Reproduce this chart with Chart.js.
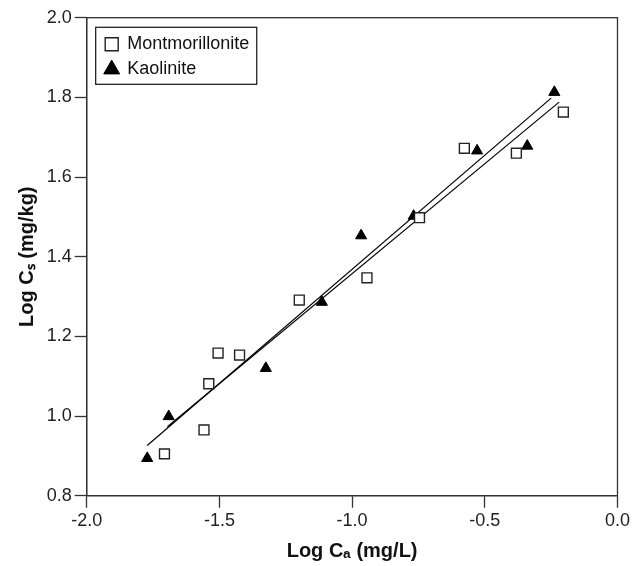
<!DOCTYPE html>
<html>
<head>
<meta charset="utf-8">
<script src="https://cdn.jsdelivr.net/npm/chart.js@4.4.1/dist/chart.umd.min.js"></script>
<style>
  html, body { margin: 0; padding: 0; background: #fff; }
</style>
</head>
<body>
<canvas id="chart" width="633" height="566"></canvas>
<script>
// Montmorillonite (open squares)
const montX = [-1.707, -1.558, -1.540, -1.505, -1.424, -1.199, -0.944, -0.746, -0.577, -0.381, -0.204];
const montY = [0.905, 0.965, 1.081, 1.158, 1.153, 1.291, 1.347, 1.498, 1.672, 1.660, 1.763];

// Kaolinite (filled triangles)
const kaolX = [-1.772, -1.691, -1.325, -1.114, -0.966, -0.768, -0.529, -0.340, -0.238];
const kaolY = [0.894, 0.999, 1.120, 1.286, 1.453, 1.502, 1.666, 1.678, 1.813];

// fitted lines, end points
const kaolFitX = [-1.772, -0.250];
const kaolFitY = [0.926, 1.798];
const montFitX = [-1.696, -0.220];
const montFitY = [0.973, 1.788];

const seriesNames = ["Montmorillonite", "Kaolinite"];
const xTitle = "Log C\u2090 (mg/L)";
const yTitle = "Log C\u209B (mg/kg)";

const FONT = "'Liberation Sans', Arial, Helvetica, sans-serif";

const toPoints = (xs, ys) => xs.map((x, i) => ({ x, y: ys[i] }));
const fmt = v => (Math.abs(v) < 1e-9 ? 0 : v).toFixed(1);

// box round the plot, and a border for the legend
const framePlugin = {
    id: "frame",
    afterLayout(chart) {
        const lg = chart.legend;
        const a = chart.chartArea;
        if (lg) {
            // legend sits a little inside the top-left corner
            lg.left = a.left + 11.5;
            lg.top = a.top + 10.6;
        }
    },
    afterDraw(chart) {
        const { ctx, chartArea: a } = chart;
        ctx.save();
        ctx.strokeStyle = "#333";
        ctx.lineWidth = 1.3;
        ctx.strokeRect(a.left, a.top, a.right - a.left, a.bottom - a.top);

        const lg = chart.legend;
        const lo = chart.options.plugins.legend.labels;
        ctx.font = "18px " + FONT;
        const textW = Math.max(...lg.legendItems.map(it => ctx.measureText(it.text).width));
        const x0 = lg.left + lo.padding - 9.5;
        const y0 = lg.top + lo.padding - 8;
        const w = 9.5 + lo.boxWidth + 9 + textW + 7.5;
        const h = 8 + 25 + 18 + 6;
        ctx.strokeStyle = "#111";
        ctx.lineWidth = 1.2;
        ctx.strokeRect(x0, y0, w, h);
        ctx.restore();
    }
};

new Chart(document.getElementById("chart"), {
    type: "scatter",
    data: {
        datasets: [
            {
                label: seriesNames[0],
                data: toPoints(montX, montY),
                pointStyle: "rect",
                pointRadius: 7,
                pointBackgroundColor: "#fff",
                pointBorderColor: "#222",
                pointBorderWidth: 1.4
            },
            {
                label: seriesNames[1],
                data: toPoints(kaolX, kaolY),
                pointStyle: "triangle",
                pointRadius: 6.4,
                pointBackgroundColor: "#000",
                pointBorderColor: "#000",
                pointBorderWidth: 1
            },
            {
                label: "kaolinite fit",
                type: "line",
                data: toPoints(kaolFitX, kaolFitY),
                borderColor: "#000",
                borderWidth: 1.2,
                pointRadius: 0,
                fill: false
            },
            {
                label: "montmorillonite fit",
                type: "line",
                data: toPoints(montFitX, montFitY),
                borderColor: "#000",
                borderWidth: 1.2,
                pointRadius: 0,
                fill: false
            }
        ]
    },
    options: {
        responsive: false,
        animation: false,
        layout: { padding: { left: 0, top: 17.7, right: 14, bottom: 0 } },
        plugins: {
            legend: {
                position: "chartArea",
                align: "start",
                labels: {
                    filter: item => item.datasetIndex < 2,
                    usePointStyle: true,
                    boxWidth: 13,
                    boxHeight: 13,
                    padding: 7,
                    color: "#111",
                    font: { family: FONT, size: 18 }
                }
            },
            tooltip: { enabled: false }
        },
        scales: {
            x: {
                type: "linear",
                min: -2,
                max: 0,
                ticks: {
                    stepSize: 0.5,
                    callback: v => fmt(v),
                    color: "#222",
                    padding: 3,
                    maxRotation: 0,
                    font: { family: FONT, size: 18 }
                },
                grid: { drawOnChartArea: false, tickLength: 12, tickColor: "#333", tickWidth: 1.3 },
                border: { color: "#333", width: 1.3 },
                title: {
                    display: true,
                    text: xTitle,
                    color: "#111",
                    padding: { top: 0, bottom: 3 },
                    font: { family: FONT, size: 20, weight: "bold" }
                },
                afterFit: s => { s.height = 70.3; }
            },
            y: {
                type: "linear",
                min: 0.8,
                max: 2.0,
                ticks: {
                    stepSize: 0.2,
                    callback: v => fmt(v),
                    color: "#222",
                    padding: 3,
                    font: { family: FONT, size: 18 }
                },
                grid: { drawOnChartArea: false, tickLength: 12, tickColor: "#333", tickWidth: 1.3 },
                border: { color: "#333", width: 1.3 },
                title: {
                    display: true,
                    text: yTitle,
                    color: "#111",
                    padding: { top: 15, bottom: 0 },
                    font: { family: FONT, size: 20, weight: "bold" }
                },
                afterFit: s => { s.width = 86.7; }
            }
        }
    },
    plugins: [framePlugin]
});
</script>
</body>
</html>
